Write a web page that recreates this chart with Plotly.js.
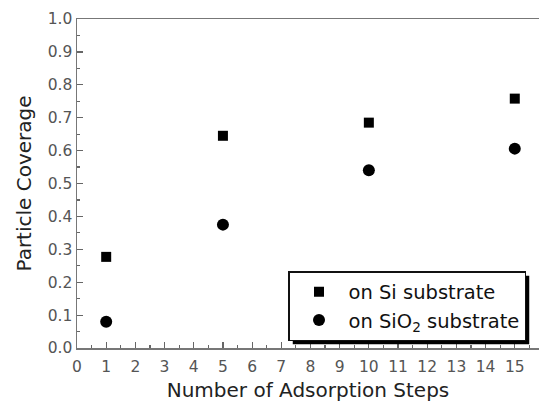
<!DOCTYPE html>
<html>
<head>
<meta charset="utf-8">
<script src="https://cdn.plot.ly/plotly-3.0.1.min.js"></script>
<style>html,body{margin:0;padding:0;background:#fff;}#chart{width:539px;height:402px;}</style>
</head>
<body>
<div id="chart"></div>
<script>
var steps = [1, 5, 10, 15];
var siCoverage = [0.277, 0.645, 0.685, 0.758];
var sio2Coverage = [0.080, 0.375, 0.540, 0.606];
var seriesNames = ['on Si substrate', 'on SiO<sub>2</sub> substrate'];
var xTickVals = [0,1,2,3,4,5,6,7,8,9,10,11,12,13,14,15];
var yTickVals = [0,0.1,0.2,0.3,0.4,0.5,0.6,0.7,0.8,0.9,1.0];
var yTickText = ['0.0','0.1','0.2','0.3','0.4','0.5','0.6','0.7','0.8','0.9','1.0'];

var FONT = 'DejaVu Sans, sans-serif';
var L = 77, R = 0, T = 19, B = 54, W = 539, H = 402;

var traces = [
  {x: steps, y: siCoverage, name: seriesNames[0], type: 'scatter', mode: 'markers',
   marker: {symbol: 'square', size: 10, color: '#000'}},
  {x: steps, y: sio2Coverage, name: seriesNames[1], type: 'scatter', mode: 'markers',
   marker: {symbol: 'circle', size: 12, color: '#000'}}
];

var layout = {
  width: W, height: H,
  margin: {l: L, r: R, t: T, b: B, pad: 0},
  paper_bgcolor: '#fff', plot_bgcolor: '#fff',
  showlegend: true,
  font: {family: FONT, color: '#222'},
  xaxis: {
    range: [0, 15.83], showgrid: false, zeroline: false,
    showline: true, linecolor: '#777', linewidth: 1.5, mirror: true,
    ticks: 'inside', ticklen: 6, tickwidth: 1.2, tickcolor: '#666',
    tickvals: xTickVals, ticktext: xTickVals.map(String),
    tickfont: {family: FONT, size: 15.5, color: '#555'},
    ticklabelstandoff: 4,
    minor: {ticks: 'inside', ticklen: 3, dtick: 0.5, tick0: 0, tickcolor: '#666', tickwidth: 1.2},
    title: {text: 'Number of Adsorption Steps', font: {family: FONT, size: 20, color: '#222'}, standoff: 11}
  },
  yaxis: {
    range: [0, 1], showgrid: false, zeroline: false,
    showline: true, linecolor: '#777', linewidth: 1.5, mirror: false,
    ticks: 'inside', ticklen: 6, tickwidth: 1.2, tickcolor: '#666',
    tickvals: yTickVals, ticktext: yTickText,
    tickfont: {family: FONT, size: 15.5, color: '#555'},
    minor: {ticks: 'inside', ticklen: 3, dtick: 0.05, tick0: 0, tickcolor: '#666', tickwidth: 1.2},
    title: {text: 'Particle Coverage', font: {family: FONT, size: 20, color: '#222'}, standoff: 10}
  },
  legend: {
    x: (288 - L) / (W - L - R), y: (H - B - 271) / (H - T - B), xanchor: 'left', yanchor: 'top',
    bgcolor: '#fff', bordercolor: '#111', borderwidth: 1.5,
    font: {family: FONT, size: 19.5, color: '#111'},
    itemwidth: 49, tracegroupgap: 0
  },
  shapes: []
};

Plotly.newPlot('chart', traces, layout, {displayModeBar: false, staticPlot: true}).then(function (gd) {
  // drop shadow behind the legend box, offset 4px right and down
  var bg = gd.querySelector('.legend .bg');
  if (!bg) return;
  var r = bg.getBoundingClientRect();
  var c = gd.getBoundingClientRect();
  var pw = W - L - R, ph = H - T - B;
  var x0 = r.left - c.left + 4, x1 = r.right - c.left + 4;
  var y0 = r.top - c.top + 4, y1 = r.bottom - c.top + 4;
  return Plotly.relayout(gd, {shapes: [{
    type: 'rect', xref: 'paper', yref: 'paper',
    x0: (x0 - L) / pw, x1: (x1 - L) / pw,
    y0: (H - B - y1) / ph, y1: (H - B - y0) / ph,
    fillcolor: '#000', line: {width: 0}, layer: 'above'
  }]});
});
</script>
</body>
</html>
